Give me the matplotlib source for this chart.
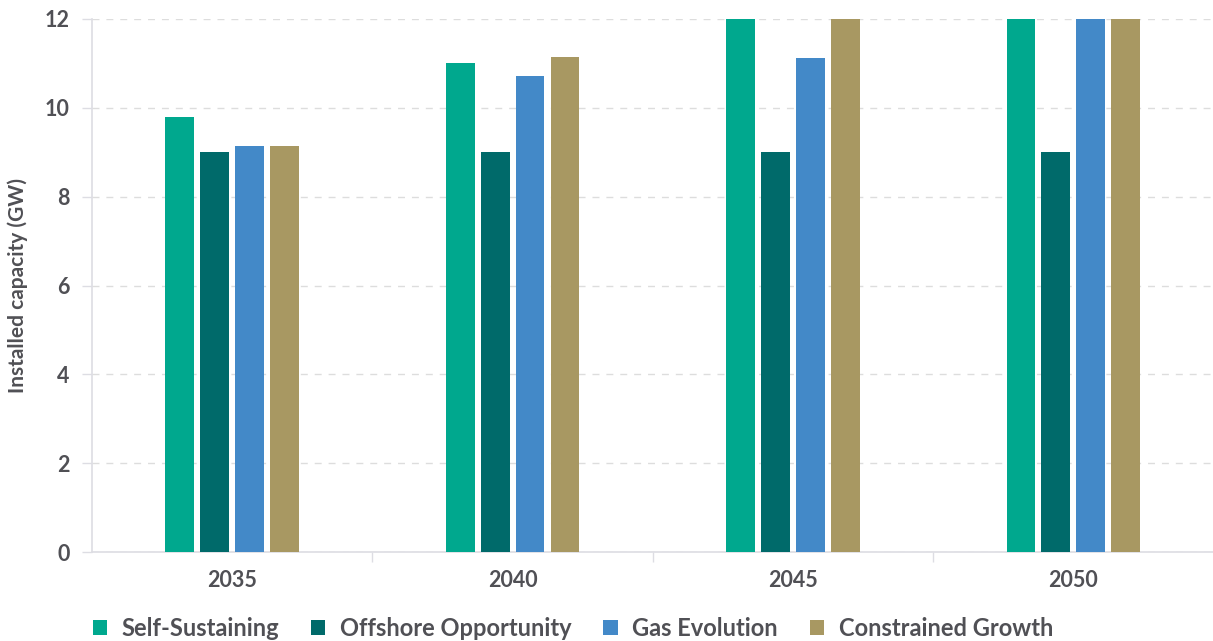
import numpy as np
import matplotlib.pyplot as plt
from matplotlib.ticker import FixedLocator

plt.rcParams['font.family'] = ['Lato', 'DejaVu Sans']

# data
years = ['2035', '2040', '2045', '2050']
self_sustaining = [9.8, 11.0, 12.0, 12.0]
offshore_opportunity = [9.0, 9.0, 9.0, 9.0]
gas_evolution = [9.14, 10.72, 11.12, 12.0]
constrained_growth = [9.14, 11.14, 12.0, 12.0]

series_names = ['Self-Sustaining', 'Offshore Opportunity', 'Gas Evolution', 'Constrained Growth']
colours = ['#00A88E', '#006A6A', '#4389C8', '#A89862']

fig = plt.figure(figsize=(12.13, 6.41), dpi=100)
ax = fig.add_axes([0.0758, 0.1388, 0.927, 0.8316])

x = np.arange(len(years))
pitch = 0.1246
width = 0.103
all_series = [self_sustaining, offshore_opportunity, gas_evolution, constrained_growth]
for i, vals in enumerate(all_series):
    offs = (i - 1.5) * pitch
    ax.bar(x + offs, vals, width, color=colours[i], label=series_names[i], zorder=3)

ax.set_xlim(-0.5, 3.51)
ax.set_ylim(0, 12)
ax.set_yticks(np.arange(0, 13, 2))
ax.yaxis.grid(True, linestyle=(0, (5, 5)), color='#dddddd', linewidth=1, zorder=0)

ax.set_xticks(x)
ax.set_xticklabels(years)
ax.xaxis.set_minor_locator(FixedLocator([0.5, 1.5, 2.5]))
ax.tick_params(axis='x', which='major', length=0, pad=13)
ax.tick_params(axis='x', which='minor', length=7, color='#dddde3', width=1)
ax.tick_params(axis='y', length=7, color='#dddde3', width=1, pad=9)

for lbl in ax.get_xticklabels() + ax.get_yticklabels():
    lbl.set_fontsize(15.5)
    lbl.set_fontweight('bold')
    lbl.set_color('#505055')

for side in ['top', 'right']:
    ax.spines[side].set_visible(False)
for side in ['left', 'bottom']:
    ax.spines[side].set_color('#dddde3')
    ax.spines[side].set_linewidth(1.2)

ax.set_ylabel('Installed capacity (GW)', fontsize=15, fontweight='bold', color='#505055', labelpad=12)

leg = fig.legend(loc='lower left', bbox_to_anchor=(0.059, -0.031), ncol=4, frameon=False,
                 fontsize=17, handlelength=0.6, handleheight=0.6, handletextpad=0.62,
                 columnspacing=1.35)
for t in leg.get_texts():
    t.set_color('#505055')
    t.set_fontweight('bold')

fig.savefig('out.png', dpi=100)
